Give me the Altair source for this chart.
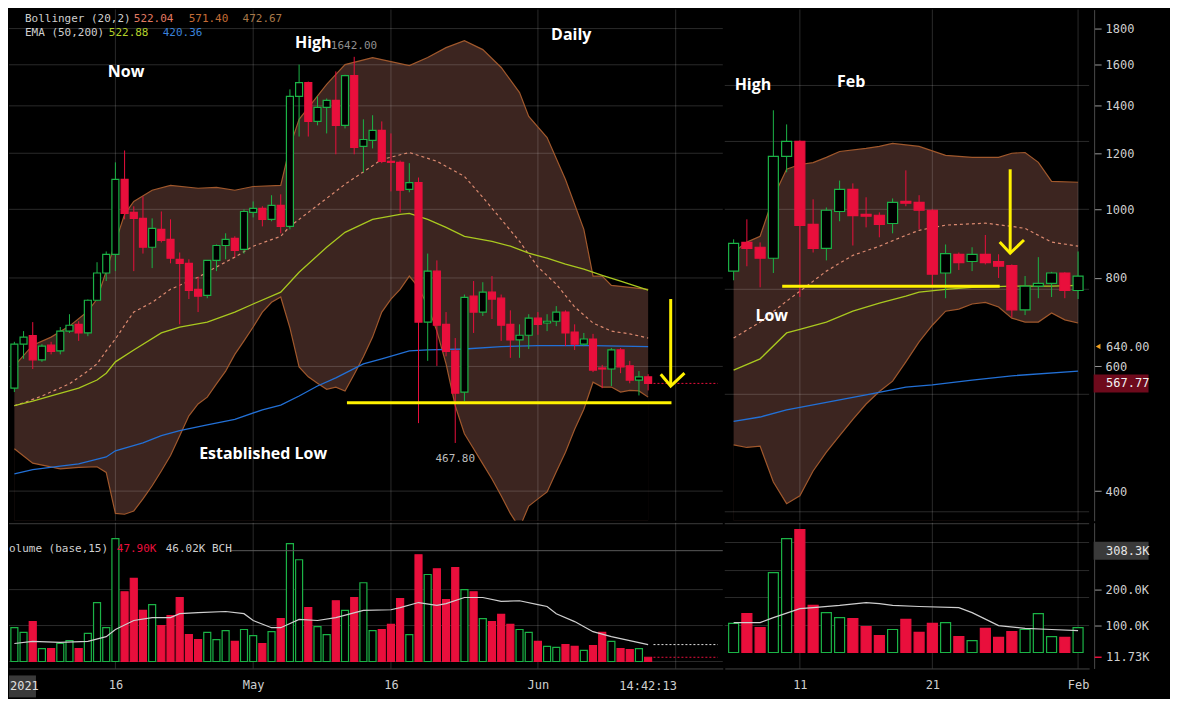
import altair as alt
import pandas as pd

# ---------------- look ----------------
BG = "#000000"
GREEN = "#1bb346"
RED = "#e90f3c"
BAND_FILL = "#3c2520"
BAND_EDGE = "#a0582c"
MID_C = "#dc8a70"
EMA50_C = "#a9c81f"
EMA200_C = "#2270d6"
VOLMA_C = "#cfcfcf"
YELLOW = "#fff200"
TXT = "#cfcfcf"
GRID_C = "#ffffff"
GRID_OP = 0.17
MONO = "DejaVu Sans Mono"
SANS = "Open Sans"
LW, RW, PH, VH = 715, 365, 512, 146
P_MIN, P_MAX = 363.3, 1914.6

# ---------------- LEFT panel: daily candles from 2021-04-05 ----------------
L_START = "2021-04-05"
L_O = [559, 645, 663, 613, 643, 631, 673, 688, 669, 744, 813, 864,
       1102, 990, 971, 884, 937, 907, 850, 839, 771, 756, 847, 889, 910, 878,
       990, 1003, 968, 1013, 946, 1444, 1510, 1331, 1393, 1425, 1314, 1545, 1227, 1251, 1293, 1169,
       1165, 1067, 1091, 693, 818, 688, 631, 552, 754, 716, 764, 749, 688, 654, 664,
       702, 691, 695, 716, 671, 645, 656, 597, 595, 633, 601, 574, 580]
L_H = [650, 673, 693, 645, 650, 682, 711, 695, 746, 842, 872, 1165,
       1211, 1010, 1043, 971, 993, 968, 869, 850, 803, 847, 892, 925, 916, 1000,
       1026, 1010, 1047, 1050, 1477, 1601, 1515, 1444, 1434, 1566, 1549, 1642, 1340, 1358, 1331, 1280,
       1172, 1162, 1109, 866, 847, 716, 658, 758, 792, 789, 805, 758, 720, 688, 711,
       716, 711, 730, 720, 688, 669, 667, 603, 637, 637, 611, 591, 585]
L_L = [552, 615, 595, 609, 624, 624, 669, 652, 662, 742, 792, 818,
       968, 818, 866, 826, 898, 839, 688, 747, 716, 749, 818, 850, 856, 866,
       974, 946, 962, 925, 937, 1267, 1267, 1314, 1280, 1196, 1301, 1196, 1128, 1219, 1162, 1060,
       990, 1057, 499, 611, 601, 620, 467.8, 536, 669, 707, 700, 652, 617, 617, 635,
       665, 673, 684, 641, 633, 641, 589, 559, 563, 587, 568, 546, 555]
L_C = [645, 660, 613, 641, 630, 673, 686, 669, 744, 813, 864, 1102,
       987, 971, 884, 940, 904, 853, 839, 768, 754, 847, 889, 907, 875, 993,
       1003, 968, 1013, 946, 1444, 1510, 1331, 1393, 1425, 1314, 1545, 1223, 1255, 1293, 1169, 1165,
       1064, 1091, 693, 818, 686, 630, 550, 751, 716, 764, 747, 686, 654, 664, 702,
       688, 695, 716, 669, 645, 656, 593, 595, 633, 599, 574, 580, 567.77]
L_VOL = [94, 81, 111, 36, 36, 50, 58, 36, 78, 164, 94, 342,
         194, 231, 142, 158, 100, 128, 178, 75, 61, 81, 61, 86, 56, 89,
         72, 50, 83, 119, 328, 283, 150, 97, 75, 169, 142, 178, 219, 86, 89, 103,
         175, 75, 297, 242, 258, 172, 261, 200, 194, 119, 111, 131, 103, 89, 81,
         56, 42, 39, 47, 42, 31, 44, 81, 56, 36, 33, 36, 11.73]

L_UP_I = [0, 2, 4, 6, 8, 9, 10, 11, 12, 13, 15, 17, 20, 22, 24, 26, 29, 30, 31, 34,
          36, 39, 43, 45, 47, 49, 51, 53, 55, 56, 58, 60, 62, 63, 64, 65, 69]
L_UP = [601, 643, 660, 684, 718, 747, 818, 899, 984, 1026, 1064, 1081, 1071, 1074, 1064, 1077, 1081, 1226, 1340, 1501,
        1601, 1638, 1596, 1638, 1692, 1731, 1681, 1586, 1462, 1353, 1263, 1102, 937, 805, 805, 781, 771]
L_LO_I = [0, 2, 5, 7, 9,
          10, 11, 12, 13, 14, 15, 16, 17, 18, 19,
          20, 21, 22, 23, 24, 25, 26, 27, 28, 29,
          30, 31, 32, 33, 34, 35, 36, 37, 38, 39,
          40, 41, 42, 43, 44, 45, 46, 47, 48, 49,
          50, 51, 52, 53, 54, 55, 56, 57, 58, 59,
          60, 61, 62, 63, 64, 65, 66, 67, 68, 69]
L_LO = [459, 438, 430, 432, 433,
        425, 372, 371, 375, 390, 407, 427, 449, 479, 511,
        531, 543, 567, 591, 624, 652, 682, 716, 739, 752,
        680, 599, 580, 568, 557, 561, 554, 585, 619, 660,
        716, 747, 771, 805, 776, 730, 673, 605, 528, 482,
        459, 437, 416, 394, 372, 355, 381, 390, 399, 426,
        454, 489, 522, 570, 561, 561, 552, 555, 554, 543]
L_MID_I = [0, 1, 3, 6, 8, 9, 10, 11, 12, 13, 15, 17, 20, 22, 24, 26, 29, 30, 33, 36,
           40, 43, 46, 49, 51, 53, 55, 57, 59, 61, 63, 65, 67, 69]
L_MID = [528, 533, 545, 567, 591, 605, 631, 656, 686, 716, 739, 771, 802, 829, 856, 887, 916, 946, 1013, 1085,
         1176, 1203, 1169, 1113, 1040, 968, 901, 829, 784, 728, 691, 673, 667, 658]
L_E50_I = [0, 2, 4, 7, 9, 10, 11, 13, 16, 18, 21, 24, 26, 29, 31, 34, 36, 39, 42, 43,
           45, 47, 49, 52, 54, 56, 58, 60, 62, 64, 66, 69]
L_E50 = [528, 536, 545, 559, 574, 587, 609, 633, 669, 682, 693, 716, 735, 764, 815, 884, 928, 968, 984, 987,
         968, 943, 916, 901, 887, 867, 853, 837, 823, 807, 792, 769]
L_E200_I = [0, 2, 5, 7, 10, 11, 14, 16, 18, 21, 24, 27, 29, 31, 33, 35, 38, 40, 43, 45, 49, 53, 57, 63, 69]
L_E200 = [423, 429, 434, 437, 447, 456, 468, 479, 487, 496, 505, 521, 529, 545, 563, 578, 605, 615, 631, 633,
          635, 640, 642, 642, 640]
L_VMA_I = [0, 2, 5, 8, 10, 11, 13, 15, 17, 18, 20, 23, 25, 26, 28, 29, 31, 33, 35, 38,
           41, 42, 44, 46, 47, 49, 51, 53, 55, 57, 58, 59, 61, 63, 65, 67, 69]
L_VMA = [50, 56, 53, 56, 69, 89, 114, 122, 122, 133, 136, 139, 133, 114, 94, 94, 117, 114, 122, 142,
         144, 150, 164, 156, 161, 178, 178, 167, 169, 158, 153, 133, 111, 83, 69, 58, 47]

# ---------------- RIGHT panel: daily candles from 2018-01-06 ----------------
R_START = "2018-01-06"
R_O = [818, 898, 884, 853, 1188, 1247, 952, 881, 993, 1067, 984, 981, 955, 1026, 1023, 997, 813, 864, 844, 864,
       844, 833, 721, 779, 786, 813, 768]
R_H = [907, 968, 898, 1380, 1318, 1251, 1033, 1006, 1098, 1088, 1040, 990, 1036, 1135, 1047, 1000, 892, 869, 884, 920,
       864, 836, 805, 856, 816, 815, 872]
R_L = [794, 831, 776, 813, 1128, 752, 869, 847, 962, 889, 943, 913, 925, 1010, 937, 779, 749, 821, 818, 836,
       800, 704, 709, 749, 752, 749, 747]
R_C = [895, 881, 853, 1188, 1247, 949, 881, 997, 1067, 980, 978, 952, 1023, 1020, 997, 810, 866, 841, 864, 841,
       831, 721, 779, 786, 813, 768, 805]
R_VOL = [81, 108, 69, 222, 317, 342, 131, 111, 97, 94, 72, 47, 64, 92, 56, 81, 83, 44, 33, 67,
         42, 58, 64, 108, 44, 42, 69]
R_VOL_BASE = 25

R_UP_I = [0, 1, 2, 3, 4, 5, 6, 7, 8, 10, 11, 12, 14, 16, 18, 20, 21, 22, 23, 24, 26]
R_UP = [870, 899, 916, 1040, 1139, 1157, 1164, 1184, 1207, 1219, 1227, 1239, 1227, 1192, 1184, 1184, 1200, 1203, 1165, 1095, 1092]
R_LO_I = [0, 1, 2, 3, 4, 5, 6, 7, 8, 9, 10, 11, 12, 13, 14, 15, 16, 17, 18, 19, 20, 21, 22, 23, 24, 25, 26]
R_LO = [465, 461, 463, 412, 384, 394, 427, 454, 479, 505, 531, 553, 572, 609, 650, 686, 718, 723, 735, 739,
        728, 702, 693, 693, 714, 698, 691]
R_MID_I = [0, 2, 4, 5, 7, 9, 11, 13, 14, 16, 19, 21, 22, 23, 24, 26]
R_MID = [658, 693, 742, 766, 818, 861, 887, 919, 934, 950, 956, 946, 940, 919, 899, 887]
R_E50_I = [0, 2, 4, 5, 7, 9, 11, 13, 14, 16, 18, 21, 24, 26]
R_E50 = [593, 615, 669, 677, 693, 718, 737, 754, 764, 771, 776, 779, 779, 781]
R_E200_I = [0, 2, 4, 7, 10, 13, 15, 18, 21, 26]
R_E200 = [502, 509, 521, 534, 547, 561, 565, 574, 582, 591]
R_VMA_I = [0, 2, 3, 5, 6, 8, 10, 11, 12, 14, 17, 18, 20, 22, 24, 26]
R_VMA = [83, 83, 97, 122, 125, 131, 139, 136, 131, 128, 125, 111, 75, 67, 64, 61]

# ---------------- ticks, grids, labels ----------------
PRICE_TICKS = [400, 600, 800, 1000, 1200, 1400, 1600, 1800]
VOL_TICKS = [100, 200]
L_HGRID = [400, 600, 800, 1000, 1200, 1400, 1600, 1800]
R_HGRID = [374, 548, 771, 1000, 1247, 1496]
L_VGRID = ["2021-04-16", "2021-05-01", "2021-05-16", "2021-06-01", "2021-06-16"]
L_XLAB = ["2021-04-16", "2021-05-01", "2021-05-16", "2021-06-01"]
R_VGRID = ["2018-01-11", "2018-01-21", "2018-02-01"]
L_VOL_HGRID = [0, 100, 200]
R_VOL_HGRID = [100, 178, 253, 331]

L_NOTE_T = ["Now", "High", "Daily", "Established Low"]
L_NOTE_D = ["2021-04-17T04:00:00Z", "2021-05-07T13:00:00Z", "2021-06-04T15:00:00Z", "2021-05-02T02:00:00Z"]
L_NOTE_V = [1565, 1720, 1765, 451]
R_NOTE_T = ["High", "Feb", "Low"]
R_NOTE_D = ["2018-01-07T11:00:00Z", "2018-01-14T21:00:00Z", "2018-01-08T21:00:00Z"]
R_NOTE_V = [1496, 1515, 707]

HIGH_TAG = ("1642.00", "2021-05-09T11:00:00Z", 1701)
LOW_TAG = ("467.80", "2021-05-23T00:00:00Z", 444)
LAST_PRICE = 567.77
ALERT_PRICE = 640.00
L_END = "2021-06-20T14:00:00Z"
L_LAST = "2021-06-13T14:00:00Z"

L_SUPPORT = ("2021-05-11T05:00:00Z", "2021-06-15T13:00:00Z", 533)
L_SHAFT = ("2021-06-15T11:00:00Z", 747, 563)
L_HEAD_D = ["2021-06-14T09:00:00Z", "2021-06-15T11:00:00Z", "2021-06-16T23:00:00Z"]
L_HEAD_V = [585, 563, 587]
R_SUPPORT = ("2018-01-09T16:00:00Z", "2018-01-26T02:00:00Z", 779)
R_SHAFT = ("2018-01-26T21:00:00Z", 1139, 867)
R_HEAD_D = ["2018-01-26T02:00:00Z", "2018-01-26T21:00:00Z", "2018-01-27T22:00:00Z"]
R_HEAD_V = [899, 867, 905]

VOL_MA_LAST = 47
VOL_LAST = 11.73
VOL_CROSS = 308.3


# ---------------- helpers ----------------
def day_iso(start, n):
    s = pd.Timestamp(start)
    return [(s + pd.Timedelta(days=i)).strftime("%Y-%m-%dT00:00:00Z") for i in range(n)]


def zdates(lst):
    return [pd.Timestamp(d).strftime("%Y-%m-%dT00:00:00Z") for d in lst]


def dt(s):
    t = pd.Timestamp(s)
    return alt.DateTime(year=t.year, month=t.month, date=t.day, utc=True)


def candles(dates, o, h, l, c, v):
    df = pd.DataFrame({"date": dates, "o": o, "h": h, "l": l, "c": c, "vol": v})
    df["dir"] = ["up" if cc >= oo else "down" for oo, cc in zip(o, c)]
    return df


def series(dates, idx, vals):
    return pd.DataFrame({"date": [dates[i] for i in idx], "v": vals})


L_DATES = day_iso(L_START, len(L_O))
R_DATES = day_iso(R_START, len(R_O))
LDF = candles(L_DATES, L_O, L_H, L_L, L_C, L_VOL)
RDF = candles(R_DATES, R_O, R_H, R_L, R_C, R_VOL)

YP = alt.Scale(type="log", domain=[P_MIN, P_MAX], nice=False)
YV = alt.Scale(domain=[-19.4, 386.1], nice=False, zero=False)
XL = alt.Scale(type="utc", nice=False,
               domain=[alt.DateTime(year=2021, month=4, date=4, hours=23, utc=True),
                       alt.DateTime(year=2021, month=6, date=20, hours=14, utc=True)])
XR = alt.Scale(type="utc", nice=False,
               domain=[alt.DateTime(year=2018, month=1, date=5, hours=17, utc=True),
                       alt.DateTime(year=2018, month=2, date=1, hours=11, utc=True)])

DIR_STROKE = alt.Scale(domain=["up", "down"], range=[GREEN, RED])
DIR_FILL = alt.Scale(domain=["up", "down"], range=[BG, RED])


def right_axis(values, fmt=None, expr=None):
    kw = dict(orient="right", values=values, labelColor=TXT, labelFont=MONO, labelFontSize=12,
              tickColor="#9a9a9a", tickSize=7, domainColor="#4a4a4a", offset=5, labelPadding=4,
              grid=False, title=None, labelOverlap=False, labelFlush=False)
    if fmt:
        kw["format"] = fmt
    if expr:
        kw["labelExpr"] = expr
    return alt.Axis(**kw)


def date_axis(values, expr):
    return alt.Axis(values=values, labelExpr=expr, ticks=False, domain=True, domainColor="#444444",
                    labelColor=TXT, labelFont=MONO, labelFontSize=12, labelPadding=11, grid=False,
                    title=None, labelOverlap=False, labelFlush=False)


YP_AX_R = right_axis(PRICE_TICKS, fmt="d")
YV_AX_R = right_axis(VOL_TICKS, expr="format(datum.value, '.1f') + 'K'")
DATE_EXPR = "utcdate(datum.value) == 1 ? utcFormat(datum.value, '%b') : '' + utcdate(datum.value)"
LX_AX = date_axis([dt(d) for d in L_XLAB], DATE_EXPR)
RX_AX = date_axis([dt(d) for d in R_VGRID], DATE_EXPR)


def one():
    return pd.DataFrame({"k": [0]})


def ptext(t, x, y, color, size=11, font=MONO, align="left", weight="normal"):
    return alt.Chart(one()).mark_text(align=align, baseline="middle", font=font, fontSize=size,
                                      fontWeight=weight, color=color, text=t).encode(
        x=alt.value(x), y=alt.value(y))


def price_panel(cdf, up, lo, mid, e50, e200, xs, hgrid, vgrid, bw, width, yax, extras):
    X = alt.X("date:T", scale=xs, axis=None)

    def Y(f):
        return alt.Y(f, scale=YP, axis=yax)

    layers = [
        alt.Chart(up).mark_area(color=BAND_FILL, opacity=1, clip=True).encode(
            x=X, y=Y("v:Q"), y2=alt.datum(P_MIN)),
        alt.Chart(lo).mark_area(color=BG, opacity=1, clip=True).encode(
            x=X, y=Y("v:Q"), y2=alt.datum(P_MIN)),
        alt.Chart(pd.DataFrame({"v": hgrid})).mark_rule(color=GRID_C, opacity=GRID_OP).encode(y=Y("v:Q")),
        alt.Chart(pd.DataFrame({"date": zdates(vgrid)})).mark_rule(color=GRID_C, opacity=GRID_OP).encode(x=X),
        alt.Chart(up).mark_line(color=BAND_EDGE, strokeWidth=1.2, clip=True).encode(x=X, y=Y("v:Q")),
        alt.Chart(lo).mark_line(color=BAND_EDGE, strokeWidth=1.2, clip=True).encode(x=X, y=Y("v:Q")),
        alt.Chart(mid).mark_line(color=MID_C, strokeWidth=1.2, strokeDash=[3, 3], clip=True).encode(x=X, y=Y("v:Q")),
        alt.Chart(e50).mark_line(color=EMA50_C, strokeWidth=1.3, clip=True).encode(x=X, y=Y("v:Q")),
        alt.Chart(e200).mark_line(color=EMA200_C, strokeWidth=1.3, clip=True).encode(x=X, y=Y("v:Q")),
        alt.Chart(cdf).mark_rule(strokeWidth=1).encode(
            x=X, y=Y("l:Q"), y2="h:Q", color=alt.Color("dir:N", scale=DIR_STROKE, legend=None)),
        alt.Chart(cdf).mark_bar(width=bw, strokeWidth=1.2).encode(
            x=X, y=Y("o:Q"), y2="c:Q",
            fill=alt.Fill("dir:N", scale=DIR_FILL, legend=None),
            stroke=alt.Stroke("dir:N", scale=DIR_STROKE, legend=None)),
    ]
    layers += extras(X, Y)
    return alt.layer(*layers).properties(width=width, height=PH)


def volume_panel(cdf, ma, xs, xax, vgrid, hgrid, bw, width, yax, base, extras):
    X = alt.X("date:T", scale=xs, axis=xax)

    def Y(f):
        return alt.Y(f, scale=YV, axis=yax)

    layers = [
        alt.Chart(one()).mark_rule(color="#3c3c3c", strokeWidth=1).encode(
            x=alt.value(0), x2=alt.value(width), y=alt.value(1)),
        alt.Chart(pd.DataFrame({"date": zdates(vgrid)})).mark_rule(color=GRID_C, opacity=GRID_OP).encode(x=X),
        alt.Chart(pd.DataFrame({"v": hgrid})).mark_rule(color=GRID_C, opacity=GRID_OP).encode(y=Y("v:Q")),
        alt.Chart(cdf).transform_calculate(top=f"datum.vol + {base}").mark_bar(width=bw, strokeWidth=1.2).encode(
            x=X, y=Y("top:Q"), y2=alt.datum(base),
            fill=alt.Fill("dir:N", scale=DIR_FILL, legend=None),
            stroke=alt.Stroke("dir:N", scale=DIR_STROKE, legend=None)),
        alt.Chart(ma).transform_calculate(top=f"datum.v + {base}").mark_line(
            color=VOLMA_C, strokeWidth=1.2).encode(x=X, y=Y("top:Q")),
    ]
    layers += extras(X, Y)
    return alt.layer(*layers).properties(width=width, height=VH)


NOTE_FONT = dict(font=SANS, fontSize=16, fontWeight="bold", color="#ffffff")


# ---------------- left extras ----------------
def left_price_extras(X, Y):
    notes = pd.DataFrame({"date": L_NOTE_D, "v": L_NOTE_V, "t": L_NOTE_T})
    return [
        alt.Chart(pd.DataFrame({"s": [L_LAST], "e": [L_END]})).mark_rule(
            color=RED, strokeDash=[2, 2], strokeWidth=1).encode(
            x=alt.X("s:T", scale=XL, axis=None), x2="e:T", y=alt.Y(datum=LAST_PRICE, scale=YP, axis=None)),
        alt.Chart(pd.DataFrame({"s": [L_SUPPORT[0]], "e": [L_SUPPORT[1]]})).mark_rule(
            color=YELLOW, strokeWidth=3).encode(
            x=alt.X("s:T", scale=XL, axis=None), x2="e:T", y=alt.Y(datum=L_SUPPORT[2], scale=YP, axis=None)),
        alt.Chart(pd.DataFrame({"date": [L_SHAFT[0]], "a": [L_SHAFT[1]], "b": [L_SHAFT[2]]})).mark_rule(
            color=YELLOW, strokeWidth=3).encode(x=X, y=Y("a:Q"), y2="b:Q"),
        alt.Chart(pd.DataFrame({"date": L_HEAD_D, "v": L_HEAD_V})).mark_line(
            color=YELLOW, strokeWidth=3).encode(x=X, y=Y("v:Q")),
        alt.Chart(notes).mark_text(**NOTE_FONT).encode(x=X, y=Y("v:Q"), text="t:N"),
        alt.Chart(pd.DataFrame({"date": [HIGH_TAG[1]], "v": [HIGH_TAG[2]], "t": [HIGH_TAG[0]]})).mark_text(
            font=MONO, fontSize=11, color="#8f8f8f", align="left").encode(x=X, y=Y("v:Q"), text="t:N"),
        alt.Chart(pd.DataFrame({"date": [LOW_TAG[1]], "v": [LOW_TAG[2]], "t": [LOW_TAG[0]]})).mark_text(
            font=MONO, fontSize=11, color="#bdbdbd").encode(x=X, y=Y("v:Q"), text="t:N"),
        ptext("Bollinger (20,2)", 16, 9, TXT),
        ptext("522.04", 125, 9, "#e27a62"),
        ptext("571.40", 180, 9, "#c46c35"),
        ptext("472.67", 234, 9, "#a8794a"),
        ptext("EMA (50,200)", 16, 23, TXT),
        ptext("522.88", 100, 23, "#b4d12a"),
        ptext("420.36", 154, 23, "#3a82da"),
    ]


def left_volume_extras(X, Y):
    return [
        alt.Chart(one()).mark_rule(color="#5a5a5a", strokeWidth=1).encode(
            x=alt.value(222), x2=alt.value(LW), y=alt.Y(datum=VOL_CROSS, scale=YV, axis=None)),
        alt.Chart(pd.DataFrame({"s": [L_LAST], "e": [L_END]})).mark_rule(
            color="#e0e0e0", strokeDash=[2, 2]).encode(
            x=alt.X("s:T", scale=XL, axis=LX_AX), x2="e:T", y=alt.Y(datum=VOL_MA_LAST, scale=YV, axis=None)),
        alt.Chart(pd.DataFrame({"s": [L_LAST], "e": [L_END]})).mark_rule(
            color=RED, strokeDash=[2, 2]).encode(
            x=alt.X("s:T", scale=XL, axis=LX_AX), x2="e:T", y=alt.Y(datum=VOL_LAST, scale=YV, axis=None)),
        ptext("olume (base,15)", 0, 26, TXT),
        ptext("47.90K", 108, 26, RED),
        ptext("46.02K BCH", 157, 26, TXT),
        alt.Chart(one()).mark_rect(color="#3a3a3a").encode(
            x=alt.value(0), x2=alt.value(27), y=alt.value(VH + 7), y2=alt.value(VH + 29)),
        ptext("2021", 1, VH + 18, "#e0e0e0", size=12),
        alt.Chart(pd.DataFrame({"date": ["2021-06-13T00:00:00Z"], "t": ["14:42:13"]})).mark_text(
            font=MONO, fontSize=12, color=TXT, baseline="middle").encode(
            x=X, y=alt.value(VH + 18), text="t:N"),
    ]


# ---------------- right extras ----------------
def right_price_extras(X, Y):
    notes = pd.DataFrame({"date": R_NOTE_D, "v": R_NOTE_V, "t": R_NOTE_T})
    return [
        alt.Chart(pd.DataFrame({"s": [R_SUPPORT[0]], "e": [R_SUPPORT[1]]})).mark_rule(
            color=YELLOW, strokeWidth=3).encode(
            x=alt.X("s:T", scale=XR, axis=None), x2="e:T", y=alt.Y(datum=R_SUPPORT[2], scale=YP, axis=YP_AX_R)),
        alt.Chart(pd.DataFrame({"date": [R_SHAFT[0]], "a": [R_SHAFT[1]], "b": [R_SHAFT[2]]})).mark_rule(
            color=YELLOW, strokeWidth=3).encode(x=X, y=Y("a:Q"), y2="b:Q"),
        alt.Chart(pd.DataFrame({"date": R_HEAD_D, "v": R_HEAD_V})).mark_line(
            color=YELLOW, strokeWidth=3).encode(x=X, y=Y("v:Q")),
        alt.Chart(notes).mark_text(**NOTE_FONT).encode(x=X, y=Y("v:Q"), text="t:N"),
        alt.Chart(one()).mark_point(shape="triangle-left", filled=True, color="#f0a020", size=30, opacity=1).encode(
            x=alt.value(RW + 9), y=alt.Y(datum=ALERT_PRICE, scale=YP, axis=YP_AX_R)),
        alt.Chart(one()).mark_text(align="left", baseline="middle", font=MONO, fontSize=12, color=TXT,
                                   text="640.00").encode(
            x=alt.value(RW + 17), y=alt.Y(datum=ALERT_PRICE, scale=YP, axis=YP_AX_R)),
        alt.Chart(one()).mark_tick(orient="horizontal", size=55, thickness=18, color="#6e0a1c", opacity=1).encode(
            x=alt.value(RW + 32), y=alt.Y(datum=LAST_PRICE, scale=YP, axis=YP_AX_R)),
        alt.Chart(one()).mark_text(align="left", baseline="middle", font=MONO, fontSize=12, color="#f2f2f2",
                                   text="567.77").encode(
            x=alt.value(RW + 17), y=alt.Y(datum=LAST_PRICE, scale=YP, axis=YP_AX_R)),
    ]


def right_volume_extras(X, Y):
    return [
        alt.Chart(one()).mark_tick(orient="horizontal", size=55, thickness=18, color="#3a3a3a", opacity=1).encode(
            x=alt.value(RW + 32), y=alt.Y(datum=VOL_CROSS, scale=YV, axis=YV_AX_R)),
        alt.Chart(one()).mark_text(align="left", baseline="middle", font=MONO, fontSize=12, color="#e6e6e6",
                                   text="308.3K").encode(
            x=alt.value(RW + 17), y=alt.Y(datum=VOL_CROSS, scale=YV, axis=YV_AX_R)),
        alt.Chart(one()).mark_tick(orient="horizontal", size=7, thickness=1.5, color=RED, opacity=1).encode(
            x=alt.value(RW + 9), y=alt.Y(datum=VOL_LAST, scale=YV, axis=YV_AX_R)),
        alt.Chart(one()).mark_text(align="left", baseline="middle", font=MONO, fontSize=12, color=TXT,
                                   text="11.73K").encode(
            x=alt.value(RW + 17), y=alt.Y(datum=VOL_LAST, scale=YV, axis=YV_AX_R)),
    ]


left_price = price_panel(
    LDF, series(L_DATES, L_UP_I, L_UP), series(L_DATES, L_LO_I, L_LO), series(L_DATES, L_MID_I, L_MID),
    series(L_DATES, L_E50_I, L_E50), series(L_DATES, L_E200_I, L_E200),
    XL, L_HGRID, L_VGRID, 7, LW, None, left_price_extras)
right_price = price_panel(
    RDF, series(R_DATES, R_UP_I, R_UP), series(R_DATES, R_LO_I, R_LO),
    series(R_DATES, R_MID_I, R_MID), series(R_DATES, R_E50_I, R_E50), series(R_DATES, R_E200_I, R_E200),
    XR, R_HGRID, R_VGRID, 10, RW, YP_AX_R, right_price_extras)

left_vol = volume_panel(LDF, series(L_DATES, L_VMA_I, L_VMA), XL, LX_AX, L_VGRID, L_VOL_HGRID, 7, LW,
                        None, 0, left_volume_extras)
right_vol = volume_panel(RDF, series(R_DATES, R_VMA_I, R_VMA), XR, RX_AX, R_VGRID, R_VOL_HGRID, 10, RW,
                         YV_AX_R, R_VOL_BASE, right_volume_extras)

chart = alt.hconcat(
    alt.vconcat(left_price, left_vol, spacing=0),
    alt.vconcat(right_price, right_vol, spacing=0),
    spacing=0,
).properties(
    padding={"left": 0, "top": 0, "right": 20, "bottom": 1},
    background=BG,
).configure_view(strokeWidth=0)

chart.save("out.html", embed_options={"renderer": "svg", "actions": False})
